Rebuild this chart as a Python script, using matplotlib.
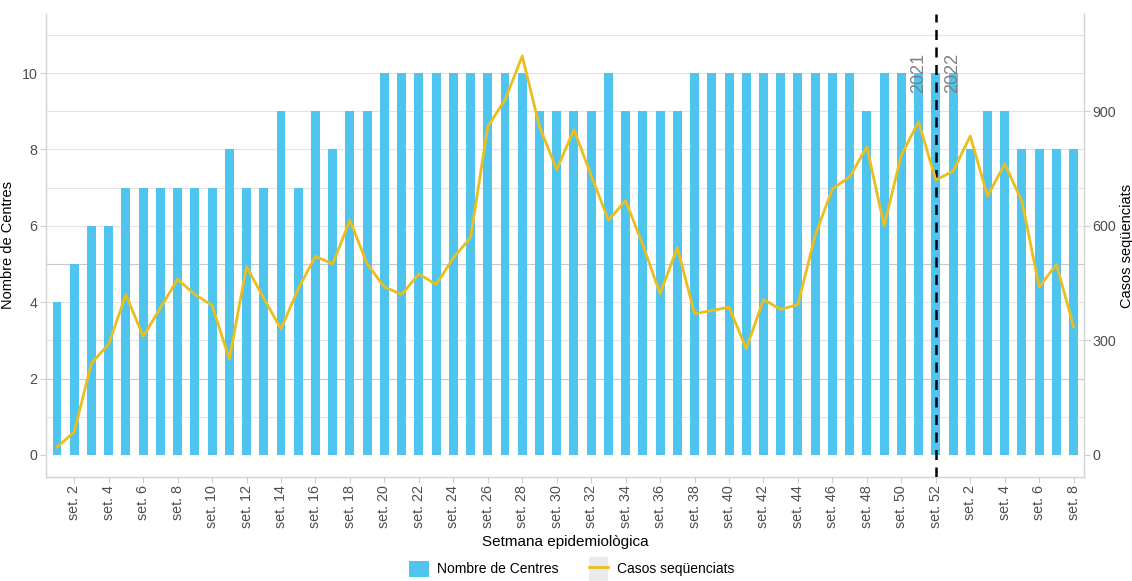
import matplotlib
matplotlib.use("Agg")
import matplotlib.pyplot as plt
from matplotlib.patches import Patch, Rectangle
from matplotlib.lines import Line2D
from matplotlib.legend_handler import HandlerLine2D

plt.rcParams['font.family'] = ['Liberation Sans', 'DejaVu Sans']

# ---- data ----
weeks_2021 = list(range(1, 53))
weeks_2022 = list(range(1, 9))
week_labels = [f"set. {w}" for w in weeks_2021 + weeks_2022]

centres = [4, 5, 6, 6, 7, 7, 7, 7, 7, 7, 8, 7, 7, 9, 7, 9, 8, 9, 9, 10,
           10, 10, 10, 10, 10, 10, 10, 10, 9, 9, 9, 9, 10, 9, 9, 9, 9, 10, 10, 10,
           10, 10, 10, 10, 10, 10, 10, 9, 10, 10, 10, 10,
           10, 8, 9, 9, 8, 8, 8, 8]

casos = [20, 60, 240, 290, 420, 310, 385, 460, 420, 392, 251, 493, 410, 330, 435, 520, 500, 615, 500, 440,
         420, 474, 446, 516, 569, 860, 930, 1045, 860, 747, 852, 732, 615, 666, 550, 422, 543, 370, 378, 387,
         278, 407, 381, 394, 575, 697, 728, 807, 600, 786, 872, 720,
         743, 835, 678, 762, 664, 440, 499, 335]

year_labels = ["2021", "2022"]

bar_color = '#4EC4EF'
line_color = '#EBBE1E'

x = list(range(1, len(centres) + 1))

fig = plt.figure(figsize=(11.32, 5.81), dpi=100)
ax = fig.add_axes([0.0406, 0.179, 0.917, 0.797])

ylo, yhi = -0.58, 11.55
ax.set_ylim(ylo, yhi)
ax.set_xlim(0.36, 60.6)

# gridlines
for g in [1, 3, 4, 6, 7, 8, 9, 10, 11]:
    ax.axhline(g, color='#e4e4e4', lw=0.8, zorder=0)
for g in [2, 5]:
    ax.axhline(g, color='#c8c8c8', lw=0.8, zorder=0)

ax.bar(x, centres, width=0.52, color=bar_color, zorder=2)

ax.set_yticks([0, 2, 4, 6, 8, 10])
ax.set_xticks(x[1::2])
ax.set_xticklabels(week_labels[1::2], rotation=90)
ax.tick_params(axis='both', colors='#cfcfcf', labelcolor='#4d4d4d', labelsize=10.3, length=4, pad=2)

ax.spines['top'].set_visible(False)
for s in ['left', 'bottom', 'right']:
    ax.spines[s].set_color('#d4d4d4')
    ax.spines[s].set_linewidth(1.0)

ax.set_ylabel('Nombre de Centres', fontsize=10.5)
ax.yaxis.set_label_coords(-0.0299, 0.5)
ax.set_xlabel('Setmana epidemiològica', fontsize=11, labelpad=5)

ax2 = ax.twinx()
ax2.set_ylim(ylo * 100, yhi * 100)
ax2.plot(x, casos, color=line_color, lw=2.0, zorder=3)
ax2.set_yticks([0, 300, 600, 900])
ax2.tick_params(axis='y', colors='#cfcfcf', labelcolor='#4d4d4d', labelsize=10.3, length=4, pad=2)
ax2.spines['top'].set_visible(False)
for s in ['left', 'bottom', 'right']:
    ax2.spines[s].set_color('#d4d4d4')
ax2.set_ylabel('Casos seqüenciats', fontsize=10.5, rotation=90, va='center')
ax2.yaxis.set_label_coords(1.0414, 0.5)

# year divider
split = len(weeks_2021)
ax.axvline(split, color='black', lw=1.8, ls=(0, (4, 3)), zorder=5)
ax.text(split - 1, 10.0, year_labels[0], rotation=90, ha='center', va='center',
        fontsize=13, color='#808080', zorder=6)
ax.text(split + 1, 10.0, year_labels[1], rotation=90, ha='center', va='center',
        fontsize=13, color='#808080', zorder=6)


class KeyLine(HandlerLine2D):
    def create_artists(self, legend, orig_handle, xdescent, ydescent, width, height, fontsize, trans):
        arts = super().create_artists(legend, orig_handle, xdescent, ydescent, width, height, fontsize, trans)
        r = Rectangle((-xdescent, -ydescent - 3), width, height + 6, facecolor='#ebebeb',
                      edgecolor='none', transform=trans)
        return [r] + list(arts)


handles = [Patch(facecolor=bar_color, edgecolor='none'),
           Line2D([0], [0], color=line_color, lw=2)]
fig.legend(handles, ['Nombre de Centres', 'Casos seqüenciats'], loc='center',
           bbox_to_anchor=(0.505, 0.021), ncol=2, frameon=False, fontsize=10,
           handlelength=1.4, handleheight=1.4, columnspacing=2.2, handletextpad=0.6,
           handler_map={Line2D: KeyLine()})

fig.savefig('out.png', dpi=100)
